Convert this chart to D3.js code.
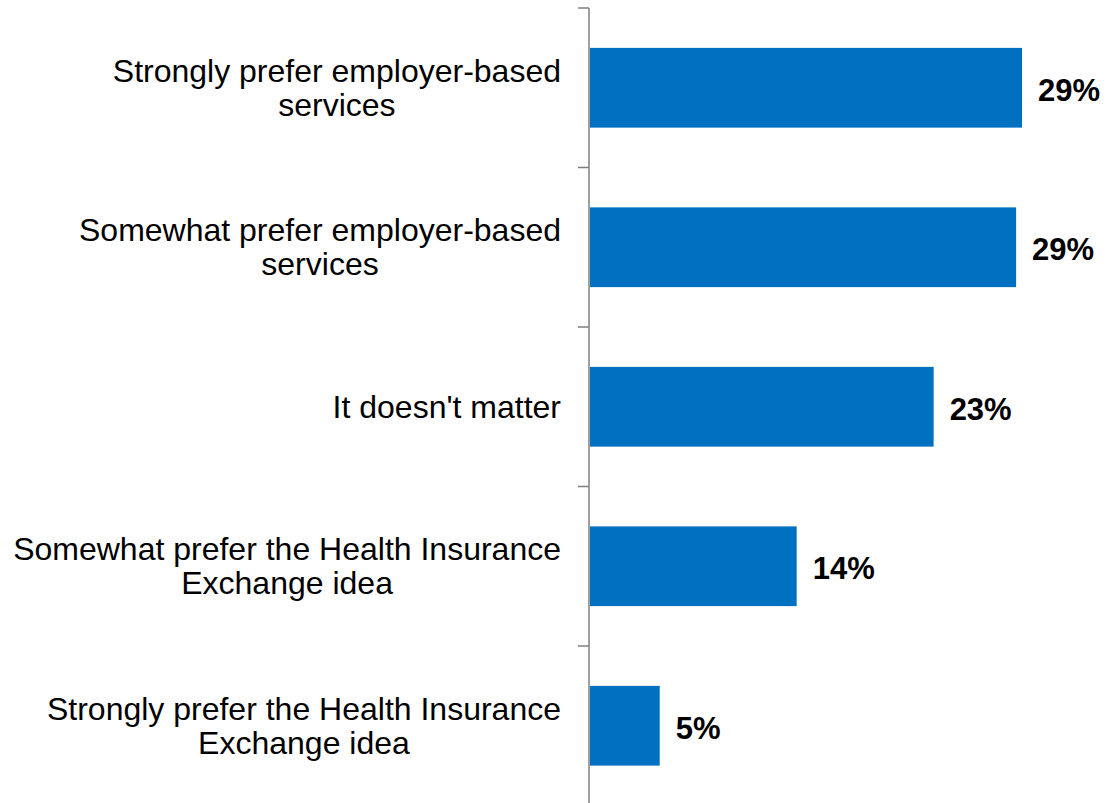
<!DOCTYPE html>
<html>
<head>
<meta charset="utf-8">
<script src="https://cdn.jsdelivr.net/npm/d3@7"></script>
<style>
  body { margin: 0; background: #fff; }
  svg { display: block; font-family: "Liberation Sans", Arial, sans-serif; }
</style>
</head>
<body>
<svg id="chart" width="1117" height="803"></svg>
<script>
// answers, top to bottom, each split into its display lines
const categories = [
  ["Strongly prefer employer-based", "services"],
  ["Somewhat prefer employer-based", "services"],
  ["It doesn't matter"],
  ["Somewhat prefer the Health Insurance", "Exchange idea"],
  ["Strongly prefer the Health Insurance", "Exchange idea"]
];
const values = [29.4, 29.0, 23.4, 14.1, 4.8];

const margin = { top: 8, right: 0, bottom: 0, left: 589 };
const height = 805.5 - margin.top;
const svg = d3.select("#chart");

const keys = categories.map((c, i) => i);

const y = d3.scaleBand()
  .domain(keys)
  .range([margin.top, margin.top + height])
  .paddingInner(0.5)
  .paddingOuter(0.25);

const x = d3.scaleLinear()
  .domain([0, 29.4])
  .range([margin.left, 1022]);

// axis line + ticks at category boundaries
const boundary = d3.scaleLinear().domain([0, keys.length]).range([margin.top, margin.top + height]);
const axisG = svg.append("g");
axisG.append("line")
  .attr("x1", margin.left).attr("x2", margin.left)
  .attr("y1", boundary(0)).attr("y2", boundary(keys.length))
  .attr("stroke", "#7f7f7f").attr("stroke-width", 1.5);
axisG.selectAll(".tick")
  .data(d3.range(keys.length + 1))
  .enter().append("line")
  .attr("class", "tick")
  .attr("x1", margin.left - 11).attr("x2", margin.left)
  .attr("y1", d => boundary(d)).attr("y2", d => boundary(d))
  .attr("stroke", "#7f7f7f").attr("stroke-width", 1.5);

// bars
svg.selectAll(".bar")
  .data(keys)
  .enter().append("rect")
  .attr("class", "bar")
  .attr("x", x(0) + 1)
  .attr("y", i => y(i))
  .attr("width", i => x(values[i]) - x(0) - 1)
  .attr("height", y.bandwidth())
  .attr("fill", "#0070c0");

// value labels
svg.selectAll(".val")
  .data(keys)
  .enter().append("text")
  .attr("class", "val")
  .attr("x", i => x(values[i]) + 16)
  .attr("y", i => y(i) + y.bandwidth() / 2)
  .attr("dy", "0.42em")
  .attr("font-size", 31)
  .attr("font-weight", "bold")
  .attr("fill", "#000")
  .text(i => Math.round(values[i]) + "%");

// category labels: centred lines, block right-aligned at 561
const lineH = 34;
const labels = svg.selectAll(".cat")
  .data(keys)
  .enter().append("text")
  .attr("class", "cat")
  .attr("font-size", 32)
  .attr("fill", "#000")
  .attr("text-anchor", "middle");

labels.each(function (i) {
  const t = d3.select(this);
  const lines = categories[i];
  const cy = y(i) + y.bandwidth() / 2;
  lines.forEach((ln, j) => {
    t.append("tspan")
      .attr("y", cy + (j - (lines.length - 1) / 2) * lineH)
      .attr("dy", "0.35em")
      .text(ln);
  });
  let w = 0;
  t.selectAll("tspan").each(function () { w = Math.max(w, this.getComputedTextLength()); });
  t.selectAll("tspan").attr("x", 561 - w / 2);
});
</script>
</body>
</html>
